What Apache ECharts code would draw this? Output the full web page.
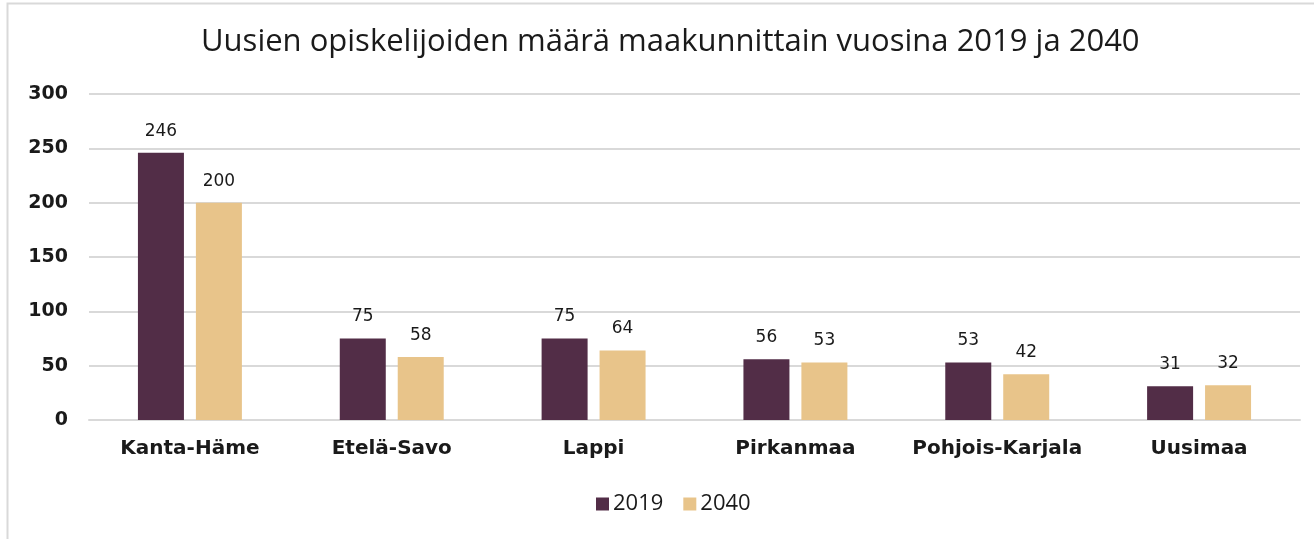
<!DOCTYPE html>
<html>
<head>
<meta charset="utf-8">
<script src="https://cdn.jsdelivr.net/npm/echarts@6/dist/echarts.min.js"></script>
<style>
  html, body { margin: 0; padding: 0; background: #fff; }
  #main { width: 1314px; height: 539px; }
</style>
</head>
<body>
<div id="main"></div>
<script>
var categories = ['Kanta-Häme', 'Etelä-Savo', 'Lappi', 'Pirkanmaa', 'Pohjois-Karjala', 'Uusimaa'];
var values2019 = [246, 75, 75, 56, 53, 31];
var values2040 = [200, 58, 64, 53, 42, 32];
var yTicks = [0, 50, 100, 150, 200, 250, 300];

var font = 'DejaVu Sans';

var option = {
    animation: false,
    backgroundColor: '#fff',
    graphic: [
        {
            type: 'rect',
            shape: { x: 7.5, y: 3.5, width: 1320, height: 560 },
            style: { fill: 'none', stroke: '#d9d9d9', lineWidth: 2 },
            silent: true
        }
    ],
    title: {
        text: 'Uusien opiskelijoiden määrä maakunnittain vuosina 2019 ja 2040',
        left: 201,
        top: 27,
        padding: 0,
        textStyle: {
            fontFamily: 'Open Sans',
            fontSize: 31,
            fontWeight: 'normal',
            color: '#1a1a1a'
        }
    },
    legend: {
        data: ['2019', '2040'],
        left: 596,
        top: 493,
        padding: 0,
        itemWidth: 13,
        itemHeight: 13,
        itemGap: 20,
        icon: 'rect',
        textStyle: { fontFamily: 'Open Sans', fontSize: 22, color: '#1a1a1a', padding: [0, 0, 0, -1] }
    },
    grid: {
        left: 89,
        right: 14,
        top: 94,
        bottom: 119,
        containLabel: false
    },
    xAxis: {
        type: 'category',
        data: categories,
        axisLine: { show: true, lineStyle: { color: '#d9d9d9', width: 2 } },
        axisTick: { show: false },
        axisLabel: {
            interval: 0,
            margin: 19,
            fontFamily: font,
            fontWeight: 'bold',
            fontSize: 20,
            color: '#1a1a1a'
        }
    },
    yAxis: {
        type: 'value',
        min: yTicks[0],
        max: yTicks[yTicks.length - 1],
        interval: 50,
        axisLine: { show: false },
        axisTick: { show: false },
        splitLine: { lineStyle: { color: '#d9d9d9', width: 2 } },
        axisLabel: {
            margin: 21,
            fontFamily: font,
            fontWeight: 'bold',
            fontSize: 19,
            color: '#1a1a1a'
        }
    },
    series: [
        {
            name: '2019',
            type: 'bar',
            data: values2019,
            barWidth: 46,
            barGap: '26%',
            itemStyle: { color: '#522d47' },
            label: {
                show: true,
                position: 'top',
                distance: 13,
                fontFamily: font,
                fontSize: 17,
                color: '#1a1a1a'
            }
        },
        {
            name: '2040',
            type: 'bar',
            data: values2040,
            barWidth: 46,
            itemStyle: { color: '#e8c48a' },
            label: {
                show: true,
                position: 'top',
                distance: 13,
                fontFamily: font,
                fontSize: 17,
                color: '#1a1a1a'
            }
        }
    ]
};

var myChart = echarts.init(document.getElementById('main'));
myChart.setOption(option);
</script>
</body>
</html>
